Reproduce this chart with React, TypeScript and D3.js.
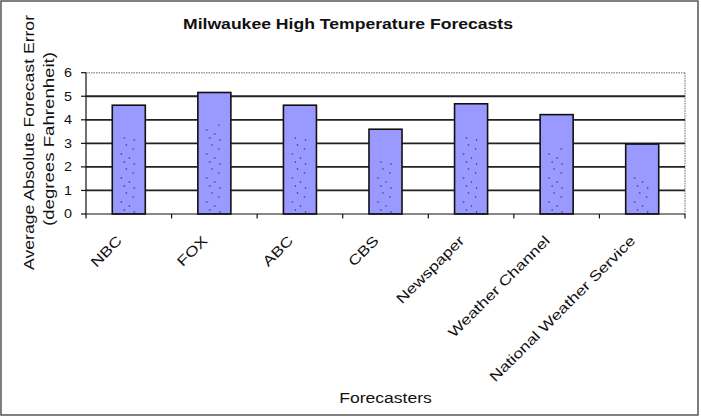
import React from 'react';
import * as d3 from 'd3';

// Chart data
const forecasters = ['NBC', 'FOX', 'ABC', 'CBS', 'Newspaper', 'Weather Channel', 'National Weather Service'];
const avgError = [4.62, 5.16, 4.62, 3.6, 4.68, 4.22, 2.97];
const yTicks = [0, 1, 2, 3, 4, 5, 6];

// dot texture inside the bars (offsets inside one tile)
const dotTile = [
  [14, 3], [21, 7], [9, 12], [17, 16], [12, 20], [22, 22],
];

const W = 701;
const H = 418;
const font = '"Liberation Sans", Arial, sans-serif';

const App = () => {
  const x = d3.scaleBand<string>()
    .domain(forecasters)
    .range([86, 685])
    .paddingInner(0.614)
    .paddingOuter(0.307);

  const y = d3.scaleLinear().domain([0, 6]).range([214, 72.7]);

  const step = x.step();
  const bw = x.bandwidth();
  const boundaries = d3.range(forecasters.length + 1).map(i => 86 + i * step);

  return (
    <svg width={W} height={H} style={{ position: 'absolute', left: 0, top: 0, background: '#fff' }}>
      <defs>
        {forecasters.map((f, i) => (
          <pattern key={f} id={`dots${i}`} patternUnits="userSpaceOnUse"
            x={x(f)} y={y(0)} width={bw} height={24}>
            {dotTile.map(([dx, dy], j) => (
              <circle key={j} cx={dx} cy={dy} r={0.75} fill="#2a2a60" />
            ))}
          </pattern>
        ))}
      </defs>

      {/* outer frame */}
      <rect x={1} y={1} width={697} height={414} fill="#fff" stroke="#555" strokeWidth={1.5} />

      {/* plot area border */}
      <line x1={86} x2={685} y1={y(6)} y2={y(6)} stroke="#999" strokeWidth={1.5} strokeDasharray="1.5,1" />
      <line x1={685} x2={685} y1={y(6)} y2={y(0)} stroke="#999" strokeWidth={1.5} strokeDasharray="1.5,1" />

      {/* gridlines */}
      {yTicks.filter(t => t > 0 && t < 6).map(t => (
        <line key={t} x1={86} x2={685} y1={y(t)} y2={y(t)} stroke="#222" strokeWidth={1.8} />
      ))}

      {/* bars */}
      {forecasters.map((f, i) => {
        const top = y(avgError[i]);
        const dotTop = top + 32;
        return (
          <g key={f}>
            <rect x={x(f)} y={top} width={bw} height={y(0) - top} fill="#9999ff" stroke="#111" strokeWidth={1.6} />
            {dotTop < y(0) && (
              <rect x={x(f)! + 1} y={dotTop} width={bw - 2} height={y(0) - dotTop - 1} fill={`url(#dots${i})`} />
            )}
          </g>
        );
      })}

      {/* axes */}
      <line x1={86} x2={86} y1={y(6)} y2={y(0)} stroke="#111" strokeWidth={1.2} />
      <line x1={86} x2={685} y1={y(0)} y2={y(0)} stroke="#111" strokeWidth={1.2} />
      {yTicks.map(t => (
        <g key={t}>
          <line x1={81} x2={86} y1={y(t)} y2={y(t)} stroke="#111" strokeWidth={1.2} />
          <text transform={`translate(72,${y(t)}) scale(1.2,1)`} dy="0.36em" textAnchor="end"
            fontFamily={font} fontSize={12} fill="#111">{t}</text>
        </g>
      ))}
      {boundaries.map((bx, i) => (
        <line key={i} x1={bx} x2={bx} y1={y(0)} y2={y(0) + 4.5} stroke="#111" strokeWidth={1.2} />
      ))}

      {/* category labels */}
      {forecasters.map(f => (
        <text key={f}
          transform={`translate(${x(f)! + bw / 2 - 9.5},238) rotate(-45) scale(1.26,1)`}
          dy="0.36em" textAnchor="end" fontFamily={font} fontSize={14} fill="#111">{f}</text>
      ))}

      {/* title */}
      <text x={348} y={29} textAnchor="middle" fontFamily={font} fontSize={14} fontWeight="bold"
        fill="#111" textLength={330} lengthAdjust="spacingAndGlyphs">Milwaukee High Temperature Forecasts</text>

      {/* axis titles */}
      <text transform="translate(33.5,142.5) rotate(-90)" textAnchor="middle" fontFamily={font} fontSize={15.5}
        fill="#111" textLength={255} lengthAdjust="spacingAndGlyphs">Average Absolute Forecast Error</text>
      <text transform="translate(54,139) rotate(-90)" textAnchor="middle" fontFamily={font} fontSize={15.5}
        fill="#111" textLength={174} lengthAdjust="spacingAndGlyphs">(degrees Fahrenheit)</text>
      <text transform="translate(385.5,403) scale(1.17,1)" textAnchor="middle" fontFamily={font} fontSize={15}
        fill="#111">Forecasters</text>
    </svg>
  );
};

export default App;
